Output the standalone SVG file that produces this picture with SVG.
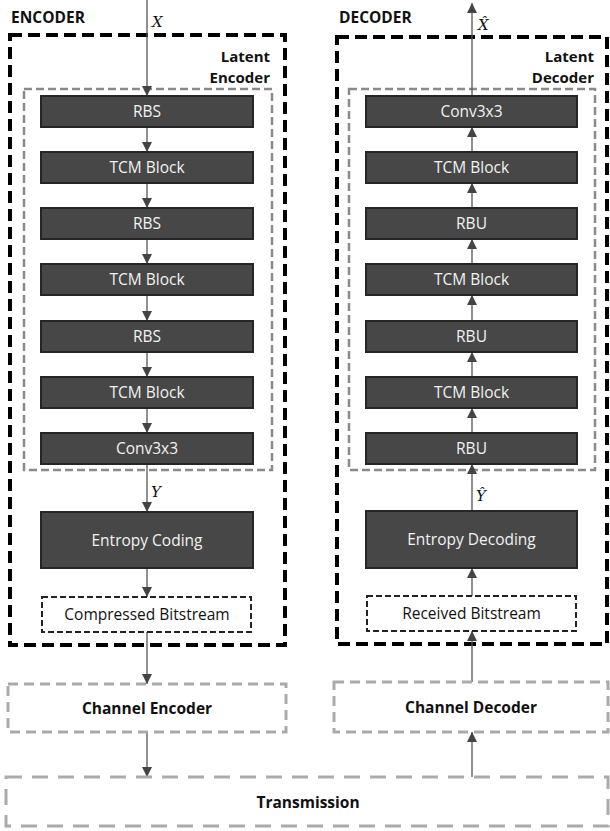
<svg xmlns="http://www.w3.org/2000/svg" width="610" height="831" viewBox="0 0 610 831">
<defs>
<marker id="ah" viewBox="0 0 10 10" refX="10" refY="5" markerWidth="10" markerHeight="10" markerUnits="userSpaceOnUse" orient="auto">
<path d="M0,0 L10,5 L0,10 Z" fill="#444"/>
</marker>
<style>
.blk{fill:#474747;stroke:#262626;stroke-width:2}
.bt{font-family:"Open Sans","Noto Sans",sans-serif;font-size:15.5px;fill:#f2f2f2;text-anchor:middle}
.outer{fill:none;stroke:#000;stroke-width:4;stroke-dasharray:12,6}
.latent{fill:none;stroke:#8a8a8a;stroke-width:2.5;stroke-dasharray:8,4}
.bits{fill:#fff;stroke:#222;stroke-width:2;stroke-dasharray:6,3}
.dt{font-family:"Open Sans","Noto Sans",sans-serif;font-size:15.5px;fill:#111;text-anchor:middle}
.chan{fill:#fff;stroke:#aaa;stroke-width:3;stroke-dasharray:10,6}
.trans{fill:#fff;stroke:#aaa;stroke-width:3;stroke-dasharray:16,10}
.ct{font-family:"Open Sans","Noto Sans",sans-serif;font-size:15.5px;font-weight:bold;fill:#111;text-anchor:middle}
.title{font-family:"Open Sans","Noto Sans",sans-serif;font-size:15.5px;font-weight:bold;fill:#111}
.lt{font-family:"Open Sans","Noto Sans",sans-serif;font-size:15px;font-weight:bold;fill:#111;text-anchor:end}
.math{font-family:"DejaVu Serif","Liberation Serif",serif;font-size:15px;font-style:italic;fill:#111}
.conn{stroke:#555;stroke-width:1.3;fill:none;marker-end:url(#ah)}
</style>
</defs>
<rect width="610" height="831" fill="#fff"/>

<g id="encoder">
<rect class="outer" x="10" y="35" width="275" height="610"/>
<text class="title" x="11" y="23">ENCODER</text>
</g>
<g id="latent-encoder">
<rect class="latent" x="24" y="89" width="248" height="381"/>
<text class="lt" x="270" y="62">Latent</text>
<text class="lt" x="270" y="83">Encoder</text>
</g>
<g id="decoder">
<rect class="outer" x="337" y="37" width="270" height="607"/>
<text class="title" x="339" y="23">DECODER</text>
</g>
<g id="latent-decoder">
<rect class="latent" x="349" y="89" width="246" height="381"/>
<text class="lt" x="594" y="62">Latent</text>
<text class="lt" x="594" y="83">Decoder</text>
</g>

<g id="connectors">
<line class="conn" x1="147" y1="0" x2="147" y2="96"/>
<line class="conn" x1="147" y1="127" x2="147" y2="152"/>
<line class="conn" x1="147" y1="183" x2="147" y2="208"/>
<line class="conn" x1="147" y1="239" x2="147" y2="264"/>
<line class="conn" x1="147" y1="295" x2="147" y2="321"/>
<line class="conn" x1="147" y1="352" x2="147" y2="377"/>
<line class="conn" x1="147" y1="408" x2="147" y2="433"/>
<line class="conn" x1="147" y1="464" x2="147" y2="512"/>
<line class="conn" x1="147" y1="568" x2="147" y2="597"/>
<line class="conn" x1="147" y1="632" x2="147" y2="684"/>
<line class="conn" x1="147" y1="732" x2="147" y2="777"/>

<line class="conn" x1="472" y1="777" x2="472" y2="732"/>
<line class="conn" x1="472" y1="682" x2="472" y2="631"/>
<line class="conn" x1="472" y1="596" x2="472" y2="568"/>
<line class="conn" x1="472" y1="511" x2="472" y2="464"/>
<line class="conn" x1="472" y1="433" x2="472" y2="408"/>
<line class="conn" x1="472" y1="377" x2="472" y2="352"/>
<line class="conn" x1="472" y1="321" x2="472" y2="295"/>
<line class="conn" x1="472" y1="264" x2="472" y2="239"/>
<line class="conn" x1="472" y1="208" x2="472" y2="183"/>
<line class="conn" x1="472" y1="152" x2="472" y2="127"/>
<line class="conn" x1="472" y1="96" x2="472" y2="3"/>
</g>

<g id="labels">
<text class="math" x="152" y="27">X</text>
<text class="math" x="151" y="497">Y</text>
<text class="math" x="478" y="30">X̂</text>
<text class="math" x="476" y="501">Ŷ</text>
</g>

<g id="enc-rbs1"><rect class="blk" x="41" y="96" width="212" height="31"/><text class="bt" x="147" y="117">RBS</text></g>
<g id="enc-tcm1"><rect class="blk" x="41" y="152" width="212" height="31"/><text class="bt" x="147" y="173">TCM Block</text></g>
<g id="enc-rbs2"><rect class="blk" x="41" y="208" width="212" height="31"/><text class="bt" x="147" y="229">RBS</text></g>
<g id="enc-tcm2"><rect class="blk" x="41" y="264" width="212" height="31"/><text class="bt" x="147" y="285">TCM Block</text></g>
<g id="enc-rbs3"><rect class="blk" x="41" y="321" width="212" height="31"/><text class="bt" x="147" y="342">RBS</text></g>
<g id="enc-tcm3"><rect class="blk" x="41" y="377" width="212" height="31"/><text class="bt" x="147" y="398">TCM Block</text></g>
<g id="enc-conv"><rect class="blk" x="41" y="433" width="212" height="31"/><text class="bt" x="147" y="454">Conv3x3</text></g>
<g id="entropy-coding"><rect class="blk" x="41" y="512" width="212" height="56"/><text class="bt" x="147" y="546">Entropy Coding</text></g>
<g id="compressed-bitstream"><rect class="bits" x="42" y="597" width="209" height="35"/><text class="dt" x="147" y="620">Compressed Bitstream</text></g>

<g id="dec-conv"><rect class="blk" x="366" y="96" width="211" height="31"/><text class="bt" x="471.5" y="117">Conv3x3</text></g>
<g id="dec-tcm1"><rect class="blk" x="366" y="152" width="211" height="31"/><text class="bt" x="471.5" y="173">TCM Block</text></g>
<g id="dec-rbu1"><rect class="blk" x="366" y="208" width="211" height="31"/><text class="bt" x="471.5" y="229">RBU</text></g>
<g id="dec-tcm2"><rect class="blk" x="366" y="264" width="211" height="31"/><text class="bt" x="471.5" y="285">TCM Block</text></g>
<g id="dec-rbu2"><rect class="blk" x="366" y="321" width="211" height="31"/><text class="bt" x="471.5" y="342">RBU</text></g>
<g id="dec-tcm3"><rect class="blk" x="366" y="377" width="211" height="31"/><text class="bt" x="471.5" y="398">TCM Block</text></g>
<g id="dec-rbu3"><rect class="blk" x="366" y="433" width="211" height="31"/><text class="bt" x="471.5" y="454">RBU</text></g>
<g id="entropy-decoding"><rect class="blk" x="366" y="511" width="211" height="57"/><text class="bt" x="471.5" y="545">Entropy Decoding</text></g>
<g id="received-bitstream"><rect class="bits" x="367" y="596" width="209" height="35"/><text class="dt" x="471.5" y="619">Received Bitstream</text></g>

<g id="channel-encoder"><rect class="chan" x="8" y="684" width="278" height="48"/><text class="ct" x="147" y="714">Channel Encoder</text></g>
<g id="channel-decoder"><rect class="chan" x="334" y="682" width="274" height="50"/><text class="ct" x="471" y="713">Channel Decoder</text></g>
<g id="transmission"><rect class="trans" x="6" y="777" width="602" height="49"/><text class="ct" x="308" y="808">Transmission</text></g>
</svg>
